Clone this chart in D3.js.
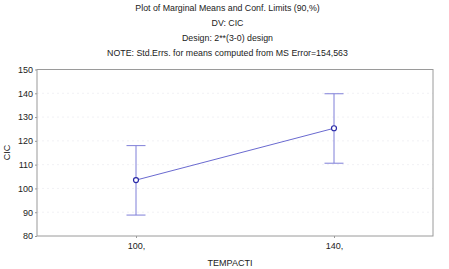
<!DOCTYPE html>
<html><head><meta charset="utf-8">
<script src="https://cdn.jsdelivr.net/npm/d3@7"></script>
<style>body{margin:0;background:#fff}svg{display:block}text{font-family:"Liberation Sans",Arial,sans-serif;fill:#222}</style>
</head><body><svg id="c" width="449" height="269"></svg>
<script>
const titles = ["Plot of Marginal Means and Conf. Limits (90,%)", "DV: CIC", "Design: 2**(3-0) design", "NOTE: Std.Errs. for means computed from MS Error=154,563"];
const categories = ["100,", "140,"];
const means = [103.5, 125.3];
const upper = [118.0, 139.8];
const lower = [88.8, 110.6];
const yTicks = [80, 90, 100, 110, 120, 130, 140, 150];
const xLabel = "TEMPACTI";
const yLabel = "CIC";

const svg = d3.select("#c");
const m = {l:37, t:69.5, r:433, b:236};
const x = d3.scalePoint().domain(categories).range([m.l, m.r]).padding(0.5);
const y = d3.scaleLinear().domain([80,150]).range([m.b, m.t]);

titles.forEach((t,i)=>svg.append("text").attr("x",227.5).attr("y",[10.5,25.5,41,56][i]).attr("text-anchor","middle").attr("font-size",8.8).text(t));

// grid
svg.append("g").selectAll("line").data(yTicks.slice(1,-1)).join("line")
  .attr("x1",m.l).attr("x2",m.r).attr("y1",d=>y(d)).attr("y2",d=>y(d))
  .attr("stroke","#f1f1f5").attr("stroke-dasharray","2,3");

// frame
svg.append("rect").attr("x",m.l).attr("y",m.t).attr("width",m.r-m.l).attr("height",m.b-m.t)
  .attr("fill","none").attr("stroke","#9a9a9a").attr("stroke-width",1);

const ya = svg.append("g").attr("transform",`translate(${m.l},0)`)
  .call(d3.axisLeft(y).tickValues(yTicks).tickSize(2).tickPadding(2));
ya.select(".domain").remove();
ya.selectAll("line").attr("stroke","#999");
ya.selectAll("text").attr("font-size",9).attr("fill","#222");

const xa = svg.append("g").attr("transform",`translate(0,${m.b})`)
  .call(d3.axisBottom(x).tickSize(2).tickPadding(5));
xa.select(".domain").remove();
xa.selectAll("line").attr("stroke","#999");
xa.selectAll("text").attr("font-size",9).attr("fill","#222");

svg.append("text").attr("x",230).attr("y",266).attr("text-anchor","middle").attr("font-size",9).text(xLabel);
svg.append("text").attr("transform","translate(10,152.5) rotate(-90)").attr("text-anchor","middle").attr("font-size",9).text(yLabel);

const data = categories.map((c,i)=>({c, m:means[i], u:upper[i], l:lower[i]}));
const eb = svg.append("g").attr("stroke","#7f7fd8").attr("stroke-width",1);
data.forEach(d=>{
  eb.append("line").attr("x1",x(d.c)).attr("x2",x(d.c)).attr("y1",y(d.u)).attr("y2",y(d.l));
  eb.append("line").attr("x1",x(d.c)-9.5).attr("x2",x(d.c)+9.5).attr("y1",y(d.u)).attr("y2",y(d.u));
  eb.append("line").attr("x1",x(d.c)-9.5).attr("x2",x(d.c)+9.5).attr("y1",y(d.l)).attr("y2",y(d.l));
});
svg.append("path").datum(data).attr("fill","none").attr("stroke","#6a6ad0").attr("stroke-width",1)
  .attr("d",d3.line().x(d=>x(d.c)).y(d=>y(d.m)));
svg.append("g").selectAll("circle").data(data).join("circle")
  .attr("cx",d=>x(d.c)).attr("cy",d=>y(d.m)).attr("r",2.5)
  .attr("fill","#fff").attr("stroke","#2a2aa8").attr("stroke-width",1.2);
</script></body></html>
